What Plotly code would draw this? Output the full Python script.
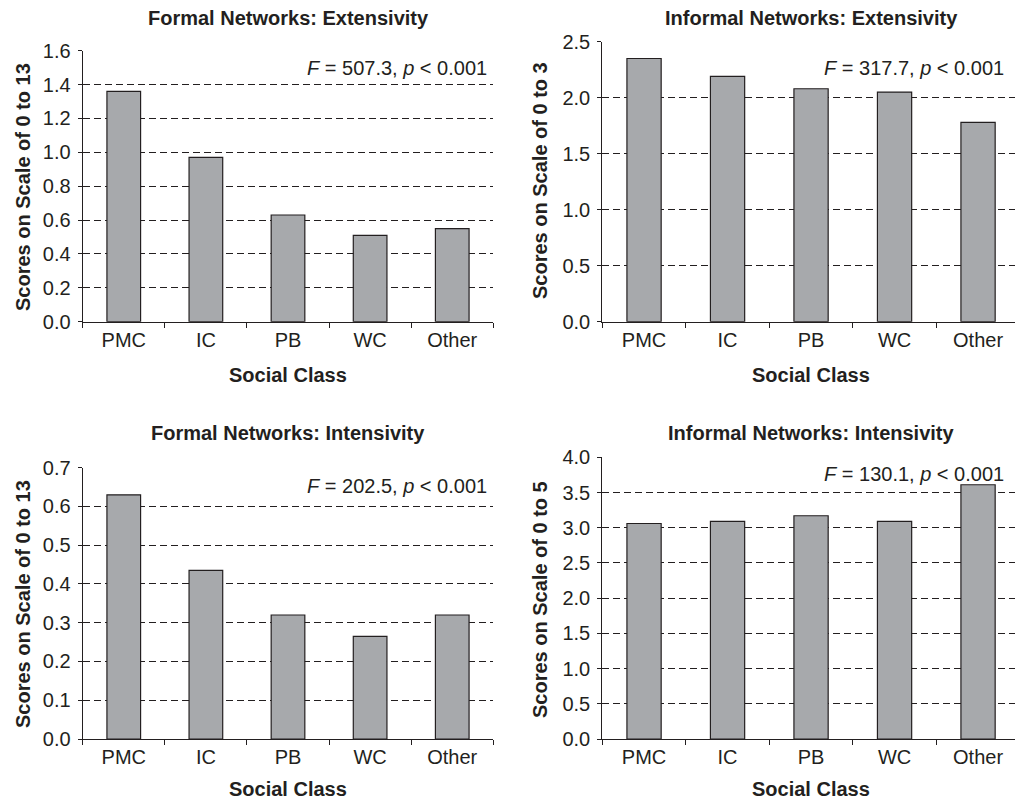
import plotly.graph_objects as go

# ---- data ----
categories = ["PMC", "IC", "PB", "WC", "Other"]
formal_extensivity = [1.36, 0.97, 0.63, 0.51, 0.55]
informal_extensivity = [2.35, 2.19, 2.08, 2.05, 1.78]
formal_intensivity = [0.63, 0.435, 0.32, 0.265, 0.32]
informal_intensivity = [3.06, 3.09, 3.17, 3.09, 3.61]

panel_titles = ["Formal Networks: Extensivity", "Informal Networks: Extensivity",
                "Formal Networks: Intensivity", "Informal Networks: Intensivity"]
y_titles = ["Scores on Scale of 0 to 13", "Scores on Scale of 0 to 3",
            "Scores on Scale of 0 to 13", "Scores on Scale of 0 to 5"]
stat_labels = ["<i>F</i> = 507.3, <i>p</i> &lt; 0.001", "<i>F</i> = 317.7, <i>p</i> &lt; 0.001",
               "<i>F</i> = 202.5, <i>p</i> &lt; 0.001", "<i>F</i> = 130.1, <i>p</i> &lt; 0.001"]
y_max = [1.6, 2.5, 0.7, 4.0]
y_step = [0.2, 0.5, 0.1, 0.5]
x_title = "Social Class"

series = [formal_extensivity, informal_extensivity, formal_intensivity, informal_intensivity]

# ---- layout geometry (pixels) ----
W, H = 1015, 801
FONT = "Liberation Sans, Arial, sans-serif"
INK = "#231f20"
BAR = "#a7a9ac"

geo = [
    dict(x0=82.7, x1=493.3, y0=50.7, y1=321.7, xr=[-0.5, 4.5], tx=288, ty=18, ax_y=375, yx=23, yy=187, sx=489, sy=68),
    dict(x0=602.3, x1=1015, y0=41.7, y1=321.7, xr=[-0.5, -0.5 + (1015 - 602.3) / 83.5], tx=811, ty=18, ax_y=375, yx=540, yy=181, sx=1006, sy=68),
    dict(x0=82.7, x1=493.3, y0=467.7, y1=739, xr=[-0.5, 4.5], tx=288, ty=433, ax_y=789, yx=23, yy=604, sx=489, sy=486),
    dict(x0=602.3, x1=1015, y0=457.3, y1=739, xr=[-0.5, -0.5 + (1015 - 602.3) / 83.5], tx=811, ty=433, ax_y=789, yx=540, yy=600, sx=1006, sy=474),
]

def px(x):
    return x / W

def py(y):
    return 1 - y / H

fig = go.Figure()
annotations = []
layout = {}
for i, (vals, g) in enumerate(zip(series, geo)):
    sfx = "" if i == 0 else str(i + 1)
    fig.add_trace(go.Bar(
        x=categories, y=vals, width=0.41,
        marker=dict(color=BAR, line=dict(color=INK, width=1.2)),
        xaxis="x" + sfx, yaxis="y" + sfx, showlegend=False,
    ))
    n = int(round(y_max[i] / y_step[i]))
    tickvals = [round(k * y_step[i], 3) for k in range(n + 1)]
    layout["xaxis" + sfx] = dict(
        domain=[px(g["x0"]), min(1.0, px(g["x1"]))], anchor="y" + sfx,
        range=g["xr"], showline=True, linecolor=INK, linewidth=1.2,
        ticks="outside", tickson="boundaries", ticklen=5, tickcolor=INK, tickwidth=1.2,
        showgrid=False, tickfont=dict(size=20, color=INK, family=FONT),
        automargin=False, fixedrange=True,
    )
    layout["yaxis" + sfx] = dict(
        domain=[py(g["y1"]), py(g["y0"])], anchor="x" + sfx,
        range=[0, y_max[i]], tickvals=tickvals,
        ticktext=[f"{v:.1f}" for v in tickvals],
        showline=True, linecolor=INK, linewidth=1.2,
        ticks="outside", ticklen=4, tickcolor=INK, tickwidth=1.2,
        showgrid=True, gridcolor=INK, gridwidth=1, griddash="7px,4px",
        zeroline=False, tickfont=dict(size=20, color=INK, family=FONT),
        ticklabelstandoff=3, automargin=False, fixedrange=True,
    )
    annotations += [
        dict(text="<b>" + panel_titles[i] + "</b>", x=px(g["tx"]), y=py(g["ty"]),
             xref="paper", yref="paper", xanchor="center", yanchor="middle",
             showarrow=False, font=dict(size=20, color=INK, family=FONT)),
        dict(text="<b>" + x_title + "</b>", x=px(g["tx"]), y=py(g["ax_y"]),
             xref="paper", yref="paper", xanchor="center", yanchor="middle",
             showarrow=False, font=dict(size=20, color=INK, family=FONT)),
        dict(text="<b>" + y_titles[i] + "</b>", x=px(g["yx"]), y=py(g["yy"]),
             xref="paper", yref="paper", xanchor="center", yanchor="middle",
             textangle=-90, showarrow=False, font=dict(size=20, color=INK, family=FONT)),
        dict(text=stat_labels[i], x=px(g["sx"]), y=py(g["sy"]),
             xref="paper", yref="paper", xanchor="right", yanchor="middle",
             showarrow=False, font=dict(size=20, color=INK, family=FONT)),
    ]

fig.update_layout(
    width=W, height=H, margin=dict(l=0, r=0, t=0, b=0, autoexpand=False),
    paper_bgcolor="white", plot_bgcolor="white",
    annotations=annotations, bargap=0.59, **layout,
)

fig.write_html(
    "out.html",
    config={"displayModeBar": False},
    post_script="document.body.style.margin='0';document.body.style.overflow='hidden';",
)
